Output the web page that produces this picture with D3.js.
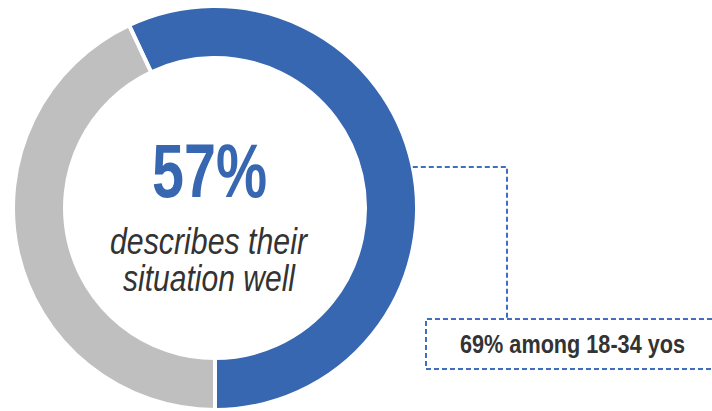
<!DOCTYPE html>
<html><head><meta charset="utf-8">
<script src="https://cdn.jsdelivr.net/npm/d3@7"></script>
<style>html,body{margin:0;padding:0;background:#fff;}svg{display:block;}</style>
</head><body>
<svg id="c" width="712" height="411"></svg>
<script>
const categories = ["Describes their situation well", "Other"];
const values = [57, 43];
const colors = ["#3767B1", "#BFBFBF"];
const headline = "57%";
const subLines = ["describes their", "situation well"];
const calloutText = "69% among 18-34 yos";

const svg = d3.select("#c");
const cx = 215, cy = 208, rOuter = 202, rInner = 150;
const total = d3.sum(values);
const start = Math.PI - 2 * Math.PI * values[0] / total;

const pie = d3.pie().sort(null).startAngle(start).endAngle(start + 2 * Math.PI);
const arc = d3.arc().innerRadius(rInner).outerRadius(rOuter);
const color = d3.scaleOrdinal().domain(categories).range(colors);

const g = svg.append("g").attr("transform", `translate(${cx},${cy})`);
g.selectAll("path").data(pie(values)).join("path")
  .attr("d", arc)
  .attr("fill", (d, i) => color(categories[i]))
  .attr("stroke", "#fff").attr("stroke-width", 4);

const font = "'Liberation Sans Narrow','Arial Narrow','Liberation Sans',Arial,sans-serif";
g.append("text").attr("x", 209.5 - cx).attr("y", 197 - cy)
  .attr("text-anchor", "middle").attr("font-family", font)
  .attr("font-weight", "bold").attr("font-size", 76).attr("fill", colors[0])
  .attr("textLength", 115).attr("lengthAdjust", "spacingAndGlyphs")
  .text(headline);
const subY = [254, 291];
const subX = [208.5, 209];
const subW = [197, 172];
subLines.forEach((t, i) => {
  g.append("text").attr("x", subX[i] - cx).attr("y", subY[i] - cy)
    .attr("text-anchor", "middle").attr("font-family", font)
    .attr("font-style", "italic").attr("font-size", 37).attr("fill", "#333")
    .attr("textLength", subW[i]).attr("lengthAdjust", "spacingAndGlyphs")
    .text(t);
});

// callout
const ly = 167;
const lx0 = cx + Math.sqrt(rOuter * rOuter - (ly - cy) * (ly - cy));
const dash = "5,3";
const lc = "#3F6EC0";
svg.append("path")
  .attr("d", `M${lx0},${ly}H507V319`)
  .attr("fill", "none").attr("stroke", lc).attr("stroke-width", 2).attr("stroke-dasharray", dash);
svg.append("path")
  .attr("d", "M712,319H426V369H712")
  .attr("fill", "none").attr("stroke", lc).attr("stroke-width", 2).attr("stroke-dasharray", dash);
svg.append("text").attr("x", 572.5).attr("y", 353).attr("text-anchor", "middle")
  .attr("font-family", font).attr("font-weight", "bold").attr("font-size", 25).attr("fill", "#333")
  .attr("textLength", 225).attr("lengthAdjust", "spacingAndGlyphs")
  .text(calloutText);
</script>
</body></html>
